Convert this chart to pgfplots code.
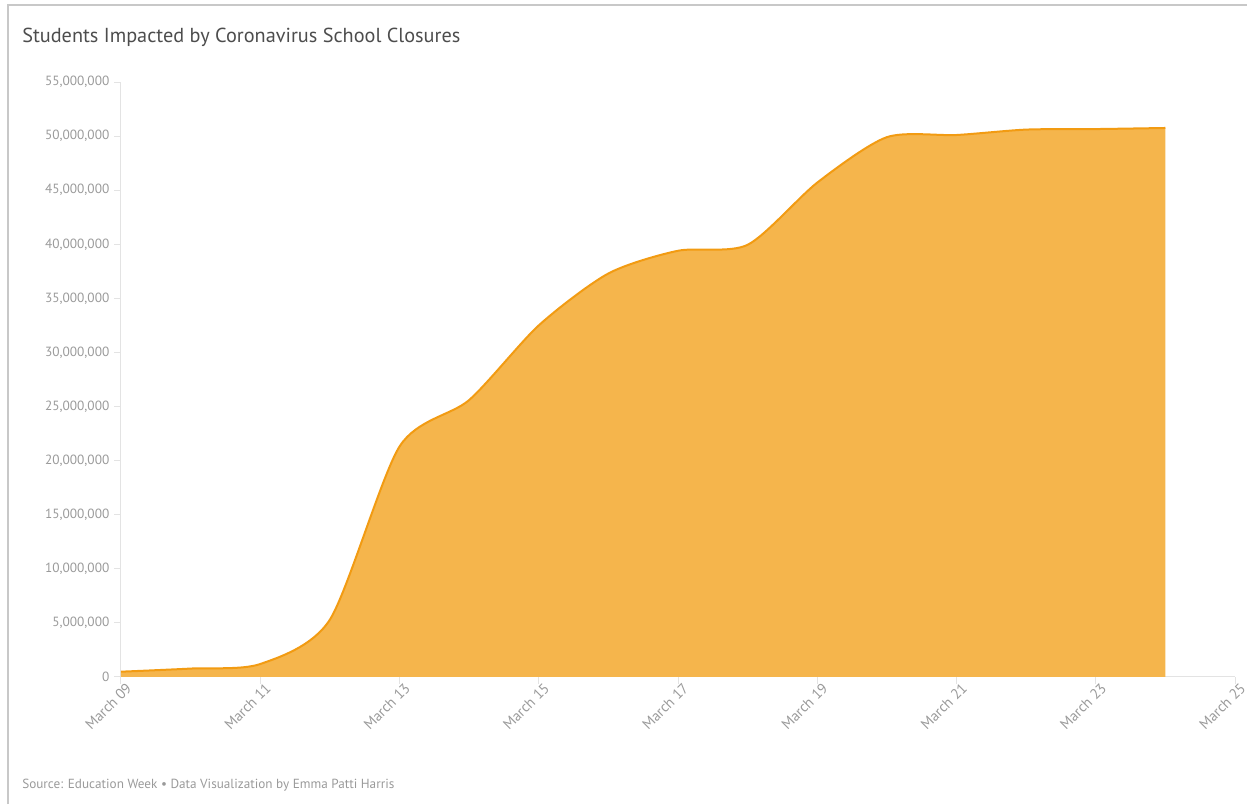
\documentclass[border=0pt]{standalone}
\usepackage{fontspec}
\setmainfont{PT Sans}
\usepackage{pgfplots}
\usepackage{pgfplotstable}
\pgfplotsset{compat=1.18}
\definecolor{areafill}{HTML}{F5B54C}
\definecolor{arealine}{HTML}{F29B12}
\definecolor{ticklab}{HTML}{9A9A9A}
\definecolor{axgray}{HTML}{E3E3E3}
\definecolor{framec}{HTML}{C8C8C8}
\definecolor{titlec}{HTML}{4D4D4D}
\pgfplotstableread{
day students
9  490000
10 780000
11 1200000
12 5300000
13 21300000
14 25600000
15 32500000
16 37300000
17 39400000
18 39950000
19 45700000
20 49900000
21 50100000
22 50600000
23 50650000
24 50750000
}\datatable
\begin{document}
\begin{tikzpicture}[x=0.75pt,y=0.75pt]
\useasboundingbox (0,0) rectangle (1247,804);
\draw[framec, line width=1.5pt] (7.5,0) -- (7.5,798.5) -- (1247,798.5);
\node[anchor=west, text=titlec, inner sep=0pt, font=\fontsize{15.2}{18}\selectfont] at (22,767) {Students Impacted by Coronavirus School Closures};
\node[anchor=west, text=ticklab, inner sep=0pt, font=\fontsize{9.9}{12}\selectfont] at (22,19) {Source: Education Week • Data Visualization by Emma Patti Harris};
\begin{axis}[
  at={(90.75pt,95.25pt)}, anchor=south west,
  scale only axis, width=835.5pt, height=446.25pt,
  xmin=9, xmax=25, ymin=0, ymax=55000000,
  axis lines=left, axis line style={-, draw=axgray, line width=0.75pt},
  tick align=outside, major tick length=5.25pt,
  tick style={draw=axgray, line width=0.75pt},
  xtick={9,11,...,25},
  xticklabels={March 09,March 11,March 13,March 15,March 17,March 19,March 21,March 23,March 25},
  xticklabel style={rotate=45, anchor=north east, text=ticklab, font=\fontsize{11}{12}\selectfont, inner sep=1pt, xshift=4.5pt},
  ytick={0,5000000,...,55000000},
  scaled y ticks=false,
  yticklabel style={text=ticklab, font=\fontsize{10}{12}\selectfont, /pgf/number format/fixed, /pgf/number format/1000 sep={,}, /pgf/number format/assume math mode=true},
  clip=false,
]
\addplot[draw=none, fill=areafill, smooth, tension=0.45] table[x=day, y=students] {\datatable} \closedcycle;
\addplot[draw=arealine, line width=1.5pt, smooth, tension=0.45] table[x=day, y=students] {\datatable};
\end{axis}
\end{tikzpicture}
\end{document}
